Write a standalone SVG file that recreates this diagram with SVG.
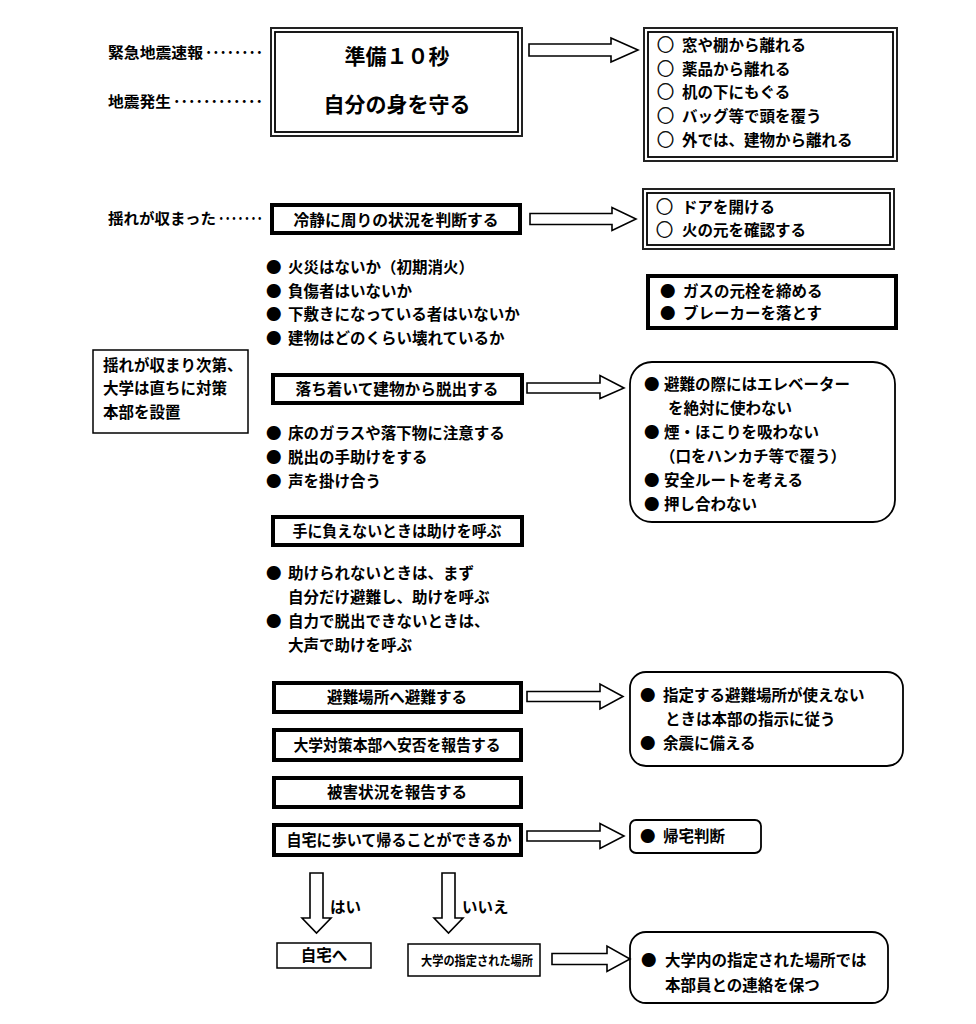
<svg xmlns="http://www.w3.org/2000/svg" width="976" height="1024" viewBox="0 0 976 1024">
<style>
text{font-family:"Noto Sans CJK JP","Noto Sans CJK SC",sans-serif;font-weight:700;fill:#000;font-size:15.5px}
.big{font-size:21px}
.mid{text-anchor:middle}
.lbl{font-size:15px}
.c{font-size:17px;stroke:#000;stroke-width:0.5}
.thick{fill:#fff;stroke:#000;stroke-width:4}
.thin{fill:#fff;stroke:#000;stroke-width:1.5}
.dbo{fill:#fff;stroke:#222;stroke-width:2}
.dbi{fill:none;stroke:#000;stroke-width:1.8}
.rnd{fill:#fff;stroke:#000;stroke-width:1.8}
.arr{fill:#fff;stroke:#000;stroke-width:1.6;stroke-linejoin:miter}
</style>
<rect width="976" height="1024" fill="#fff"/>

<g id="labels">
<text class="lbl" x="108" y="58" textLength="95" lengthAdjust="spacingAndGlyphs">緊急地震速報</text>
<text class="lbl" x="205" y="58" textLength="58" lengthAdjust="spacingAndGlyphs">････････</text>
<text class="lbl" x="108" y="107" textLength="63" lengthAdjust="spacingAndGlyphs">地震発生</text>
<text class="lbl" x="173" y="107" textLength="90" lengthAdjust="spacingAndGlyphs">････････････</text>
<text class="lbl" x="108" y="224" textLength="108" lengthAdjust="spacingAndGlyphs">揺れが収まった</text>
<text class="lbl" x="218" y="224" textLength="45" lengthAdjust="spacingAndGlyphs">･･･････</text>
</g>

<g id="n-top">
<rect class="dbo" x="271" y="28" width="251" height="108"/>
<rect class="dbi" x="275" y="32" width="243" height="100"/>
<text class="big mid" x="397" y="64">準備１０秒</text>
<text class="big mid" x="397" y="112">自分の身を守る</text>
</g>

<g id="n-r1">
<rect class="dbo" x="644" y="28" width="253" height="133"/>
<rect class="dbi" x="648" y="32" width="245" height="125"/>
<text x="657" y="51"><tspan class="c">○</tspan><tspan x="682">窓や棚から離れる</tspan></text>
<text x="657" y="75"><tspan class="c">○</tspan><tspan x="682">薬品から離れる</tspan></text>
<text x="657" y="98"><tspan class="c">○</tspan><tspan x="682">机の下にもぐる</tspan></text>
<text x="657" y="122"><tspan class="c">○</tspan><tspan x="682">バッグ等で頭を覆う</tspan></text>
<text x="657" y="146"><tspan class="c">○</tspan><tspan x="682">外では、建物から離れる</tspan></text>
</g>

<g id="n-calm">
<rect class="thick" x="272" y="205" width="248" height="28"/>
<text class="mid" x="396" y="225.5" textLength="205" lengthAdjust="spacingAndGlyphs">冷静に周りの状況を判断する</text>
</g>

<g id="n-r2">
<rect class="dbo" x="643" y="189" width="251" height="60"/>
<rect class="dbi" x="647" y="193" width="243" height="52"/>
<text x="656" y="213"><tspan class="c">○</tspan><tspan x="682">ドアを開ける</tspan></text>
<text x="656" y="236"><tspan class="c">○</tspan><tspan x="682">火の元を確認する</tspan></text>
</g>

<g id="n-gas">
<rect class="thick" x="648" y="276" width="248" height="52"/>
<text x="660" y="297">●<tspan x="683">ガスの元栓を締める</tspan></text>
<text x="660" y="319">●<tspan x="683">ブレーカーを落とす</tspan></text>
</g>

<g id="n-list1">
<text x="266" y="273">●<tspan x="288">火災はないか（初期消火）</tspan></text>
<text x="266" y="297">●<tspan x="288">負傷者はいないか</tspan></text>
<text x="266" y="320">●<tspan x="288">下敷きになっている者はいないか</tspan></text>
<text x="266" y="344">●<tspan x="288">建物はどのくらい壊れているか</tspan></text>
</g>

<g id="n-hq">
<rect class="thin" x="93" y="350" width="155" height="83"/>
<text x="103" y="371">揺れが収まり次第、</text>
<text x="103" y="394">大学は直ちに対策</text>
<text x="103" y="418">本部を設置</text>
</g>

<g id="n-escape">
<rect class="thick" x="273" y="375" width="249" height="28"/>
<text class="mid" x="397" y="394.5" textLength="203" lengthAdjust="spacingAndGlyphs">落ち着いて建物から脱出する</text>
</g>

<g id="n-r3">
<rect class="rnd" x="630" y="362" width="265" height="160" rx="22"/>
<text x="644" y="390">●<tspan x="664">避難の際にはエレベーター</tspan></text>
<text x="668" y="414">を絶対に使わない</text>
<text x="644" y="438">●<tspan x="664">煙・ほこりを吸わない</tspan></text>
<text x="660" y="462">（口をハンカチ等で覆う）</text>
<text x="644" y="486">●<tspan x="664">安全ルートを考える</tspan></text>
<text x="644" y="510">●<tspan x="664">押し合わない</tspan></text>
</g>

<g id="n-list2">
<text x="266" y="439">●<tspan x="288">床のガラスや落下物に注意する</tspan></text>
<text x="266" y="463">●<tspan x="288">脱出の手助けをする</tspan></text>
<text x="266" y="487">●<tspan x="288">声を掛け合う</tspan></text>
</g>

<g id="n-help">
<rect class="thick" x="273" y="517" width="249" height="28"/>
<text class="mid" x="397" y="536.5" textLength="209" lengthAdjust="spacingAndGlyphs">手に負えないときは助けを呼ぶ</text>
</g>

<g id="n-list3">
<text x="266" y="579">●<tspan x="288">助けられないときは、まず</tspan></text>
<text x="288" y="603">自分だけ避難し、助けを呼ぶ</text>
<text x="266" y="627">●<tspan x="288">自力で脱出できないときは、</tspan></text>
<text x="288" y="651">大声で助けを呼ぶ</text>
</g>

<g id="n-evac">
<rect class="thick" x="274" y="683" width="247" height="29"/>
<text class="mid" x="397" y="703" textLength="140" lengthAdjust="spacingAndGlyphs">避難場所へ避難する</text>
</g>

<g id="n-r4">
<rect class="rnd" x="630" y="672" width="273" height="94" rx="16"/>
<text x="640" y="701">●<tspan x="663">指定する避難場所が使えない</tspan></text>
<text x="665" y="725">ときは本部の指示に従う</text>
<text x="640" y="749">●<tspan x="663">余震に備える</tspan></text>
</g>

<g id="n-report1">
<rect class="thick" x="274" y="730" width="247" height="30"/>
<text class="mid" x="397" y="750.5" textLength="207" lengthAdjust="spacingAndGlyphs">大学対策本部へ安否を報告する</text>
</g>

<g id="n-report2">
<rect class="thick" x="274" y="778" width="247" height="29"/>
<text class="mid" x="397" y="798" textLength="140" lengthAdjust="spacingAndGlyphs">被害状況を報告する</text>
</g>

<g id="n-home">
<rect class="thick" x="274" y="825" width="247" height="30"/>
<text class="mid" x="399" y="845.5" textLength="225" lengthAdjust="spacingAndGlyphs">自宅に歩いて帰ることができるか</text>
</g>

<g id="n-r5">
<rect class="rnd" x="630" y="820" width="131" height="33" rx="6"/>
<text x="640" y="842">●<tspan x="663">帰宅判断</tspan></text>
</g>

<g id="n-yes">
<rect class="thin" x="277" y="943" width="94" height="25"/>
<text class="mid" x="324" y="961" font-size="14.5">自宅へ</text>
</g>

<g id="n-no">
<rect class="thin" x="408" y="944" width="132" height="32"/>
<text x="421" y="965" style="font-size:13px" textLength="112" lengthAdjust="spacingAndGlyphs">大学の指定された場所</text>
</g>

<g id="n-r6">
<rect class="rnd" x="630" y="932" width="258" height="71" rx="16"/>
<text x="641" y="966">●<tspan x="665">大学内の指定された場所では</tspan></text>
<text x="665" y="991">本部員との連絡を保つ</text>
</g>

<g id="connectors">
<path class="arr" d="M529,44 H611 V38 L638,50 L611,62 V56 H529 Z"/>
<path class="arr" d="M530,213.5 H612 V207.5 L636,219 L612,230.5 V224.5 H530 Z"/>
<path class="arr" d="M527,383 H600 V375.5 L624,388 L600,398.5 V393 H527 Z"/>
<path class="arr" d="M527,691.5 H600 V684 L623,696.5 L600,709 V701.5 H527 Z"/>
<path class="arr" d="M527,831 H600 V823.5 L624,836 L600,848.5 V841 H527 Z"/>
<path class="arr" d="M552,953.5 H607 V946 L630,959 L607,971.5 V964.5 H552 Z"/>
<path class="arr" d="M310,873 H323 V918 H331 L316.5,933 L302,918 H310 Z"/>
<path class="arr" d="M442,873 H455 V918 H463 L448.5,933 L434,918 H442 Z"/>
<text x="330" y="913">はい</text>
<text x="462" y="913">いいえ</text>
</g>
</svg>
